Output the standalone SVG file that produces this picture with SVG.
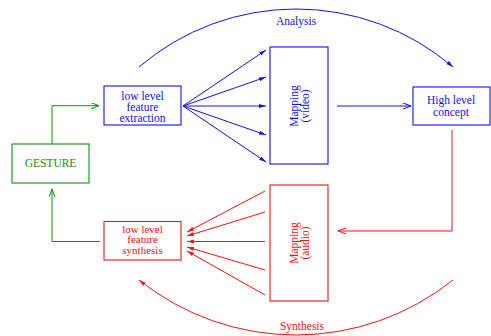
<svg xmlns="http://www.w3.org/2000/svg" width="491" height="336" viewBox="0 0 491 336">
<style>
text{font-family:"Liberation Serif","Times New Roman",serif;font-size:11.5px;text-anchor:middle}
.b{fill:#1010ff}.r{fill:#ff1010}.g{fill:#109010}
rect{fill:none;stroke-width:1.1}
.sb{stroke:#1010ff}.sr{stroke:#ff1010}.sg{stroke:#109010}
#connectors path,#connectors line{fill:none;stroke-width:1}
</style>
<defs>
<marker id="vb" markerUnits="userSpaceOnUse" markerWidth="10" markerHeight="8" refX="8" refY="3" orient="auto"><path d="M0,0 L8,3 L0,6" fill="none" stroke="#1010ff" stroke-width="1"/></marker>
<marker id="vr" markerUnits="userSpaceOnUse" markerWidth="10" markerHeight="8" refX="8" refY="3" orient="auto"><path d="M0,0 L8,3 L0,6" fill="none" stroke="#ff1010" stroke-width="1"/></marker>
<marker id="vg" markerUnits="userSpaceOnUse" markerWidth="10" markerHeight="8" refX="8" refY="3" orient="auto"><path d="M0,0 L8,3 L0,6" fill="none" stroke="#109010" stroke-width="1"/></marker>
<marker id="fb" markerUnits="userSpaceOnUse" markerWidth="9" markerHeight="6" refX="7" refY="2" orient="auto"><path d="M0,0 L7,2 L0,4 Z" fill="#1010ff" stroke="none"/></marker>
<marker id="fr" markerUnits="userSpaceOnUse" markerWidth="9" markerHeight="6" refX="7" refY="2" orient="auto"><path d="M0,0 L7,2 L0,4 Z" fill="#ff1010" stroke="none"/></marker>
</defs>
<g id="connectors">
<path class="sb" d="M139,67 A241.5,241.5 0 0 1 453,67" marker-end="url(#fb)"/>
<path class="sr" d="M453,280 A251.6,251.6 0 0 1 139,280" marker-end="url(#fr)"/>
<path class="sg" d="M52,144 V105.7 H99" marker-end="url(#vg)"/>
<path class="sg" d="M100,241.5 H52 V189" marker-end="url(#vg)"/>
<line class="sb" x1="183" y1="106" x2="266" y2="50" marker-end="url(#fb)"/>
<line class="sb" x1="183" y1="106" x2="266" y2="77" marker-end="url(#fb)"/>
<line class="sb" x1="183" y1="106" x2="266" y2="106" marker-end="url(#fb)"/>
<line class="sb" x1="183" y1="106" x2="266" y2="135" marker-end="url(#fb)"/>
<line class="sb" x1="183" y1="106" x2="266" y2="162" marker-end="url(#fb)"/>
<path class="sb" d="M337,106 H411" marker-end="url(#vb)"/>
<path class="sr" d="M452,130 V231 H338" marker-end="url(#vr)"/>
<line class="sr" x1="265" y1="191" x2="187" y2="232" marker-end="url(#fr)"/>
<line class="sr" x1="265" y1="212" x2="187" y2="236" marker-end="url(#fr)"/>
<line class="sr" x1="265" y1="241.5" x2="187" y2="241.5" marker-end="url(#fr)"/>
<line class="sr" x1="265" y1="270" x2="187" y2="247" marker-end="url(#fr)"/>
<line class="sr" x1="265" y1="295" x2="187" y2="251" marker-end="url(#fr)"/>
</g>
<g id="analysis-label"><text class="b" x="296" y="25">Analysis</text></g>
<g id="synthesis-label"><text class="r" x="302" y="330">Synthesis</text></g>
<g id="gesture">
<rect class="sg" x="12" y="144" width="77" height="39"/>
<text class="g" x="50.5" y="167">GESTURE</text>
</g>
<g id="extraction">
<rect class="sb" x="104" y="86" width="77" height="39"/>
<text class="b" x="142.5" y="99.5">low level</text>
<text class="b" x="142.5" y="110.8">feature</text>
<text class="b" x="142.5" y="122">extraction</text>
</g>
<g id="synthesis">
<rect class="sr" x="104" y="221.5" width="77" height="38.5"/>
<text class="r" x="142.5" y="232.5" style="font-size:11px">low level</text>
<text class="r" x="142.5" y="243" style="font-size:11px">feature</text>
<text class="r" x="142.5" y="253.5" style="font-size:11px">synthesis</text>
</g>
<g id="mapping-video">
<rect class="sb" x="270" y="47" width="58" height="117"/>
<text class="b" transform="translate(297.5,106) rotate(-90)">Mapping</text>
<text class="b" transform="translate(308.5,106) rotate(-90)">(video)</text>
</g>
<g id="mapping-audio">
<rect class="sr" x="270" y="185" width="58" height="116"/>
<text class="r" transform="translate(297.5,243) rotate(-90)">Mapping</text>
<text class="r" transform="translate(308.5,243) rotate(-90)">(audio)</text>
</g>
<g id="concept">
<rect class="sb" x="413" y="87" width="77" height="38"/>
<text class="b" x="451" y="104">High level</text>
<text class="b" x="451" y="115.5">concept</text>
</g>
</svg>
